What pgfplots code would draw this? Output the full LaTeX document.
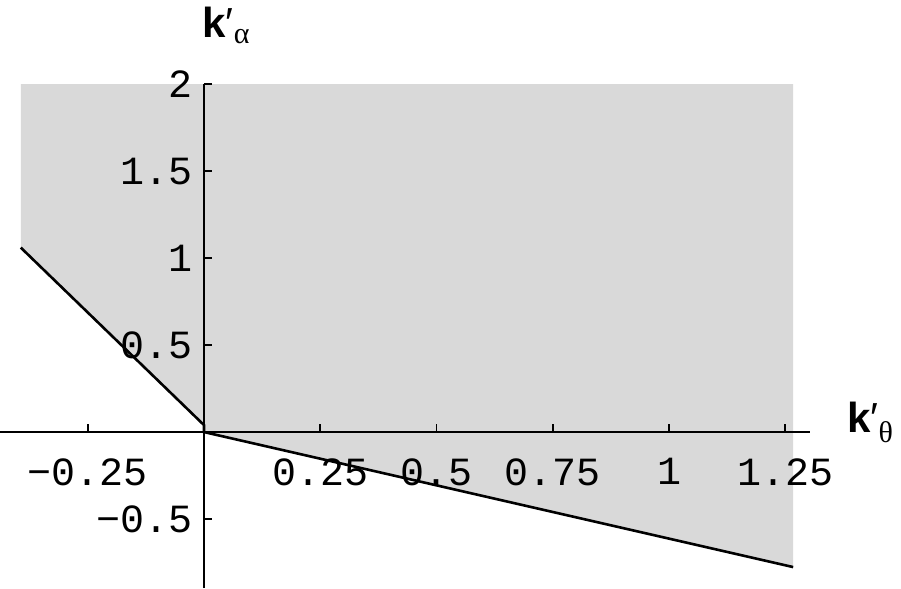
\documentclass[border=0pt]{standalone}
\usepackage{pgfplots}
\pgfplotsset{compat=1.18}
\usepackage{fontspec}
\newfontfamily\tickfont{Liberation Mono}
\newfontfamily\labfont{Liberation Sans}
\newfontfamily\grkfont{Liberation Serif}

\begin{document}
\begin{tikzpicture}
  \begin{axis}[
      x=232.5pt, y=87pt,
      axis lines=middle,
      axis on top,
      axis line style={-, line width=1.4pt},
      xmin=-0.4387, xmax=1.303,
      ymin=-0.8966, ymax=2,
      clip=false,
      xtick={-0.25,0.25,0.5,0.75,1,1.25},
      xticklabels={−0.25,0.25,0.5,0.75,1,1.25},
      ytick={-0.5,0.5,1,1.5,2},
      yticklabels={−0.5,0.5,1,1.5,2},
      tick align=inside,
      major tick length=4pt,
      tick style={line width=0.8pt, black},
      xticklabel style={font=\tickfont\fontsize{20}{24}\selectfont, anchor=north, inner sep=0pt, yshift=-13pt},
      yticklabel style={font=\tickfont\fontsize{20}{24}\selectfont, anchor=east, inner sep=0pt, xshift=-5.5pt},
    ]
    % allowed region
    \addplot[draw=none, fill=black!15] coordinates {
      (-0.394, 1.06) (0, 0.04) (0, 0) (1.267, -0.776) (1.267, 2) (-0.394, 2)
    } -- cycle;
    % boundary
    \addplot[black, line width=1.3pt] coordinates {
      (-0.394, 1.06) (0, 0.04) (0, 0) (1.267, -0.776)
    };
    \node[anchor=base west, inner sep=0pt] at (axis cs:1.383,0)
      {\labfont\fontsize{21}{24}\selectfont\bfseries k\mdseries\char"2032\raisebox{-5pt}{\grkfont\fontsize{15}{17}\selectfont θ}};
    \node[anchor=base west, inner sep=0pt] at (axis cs:-0.004,2.27)
      {\labfont\fontsize{21}{24}\selectfont\bfseries k\mdseries\char"2032\raisebox{-3pt}{\grkfont\fontsize{15}{17}\selectfont α}};
    \coordinate (bl) at (axis cs:-0.4387,-0.8966);
    \coordinate (tr) at (axis cs:1.4989,2.483);
  \end{axis}
  \pgfresetboundingbox
  \useasboundingbox (bl) rectangle (tr);
\end{tikzpicture}
\end{document}
